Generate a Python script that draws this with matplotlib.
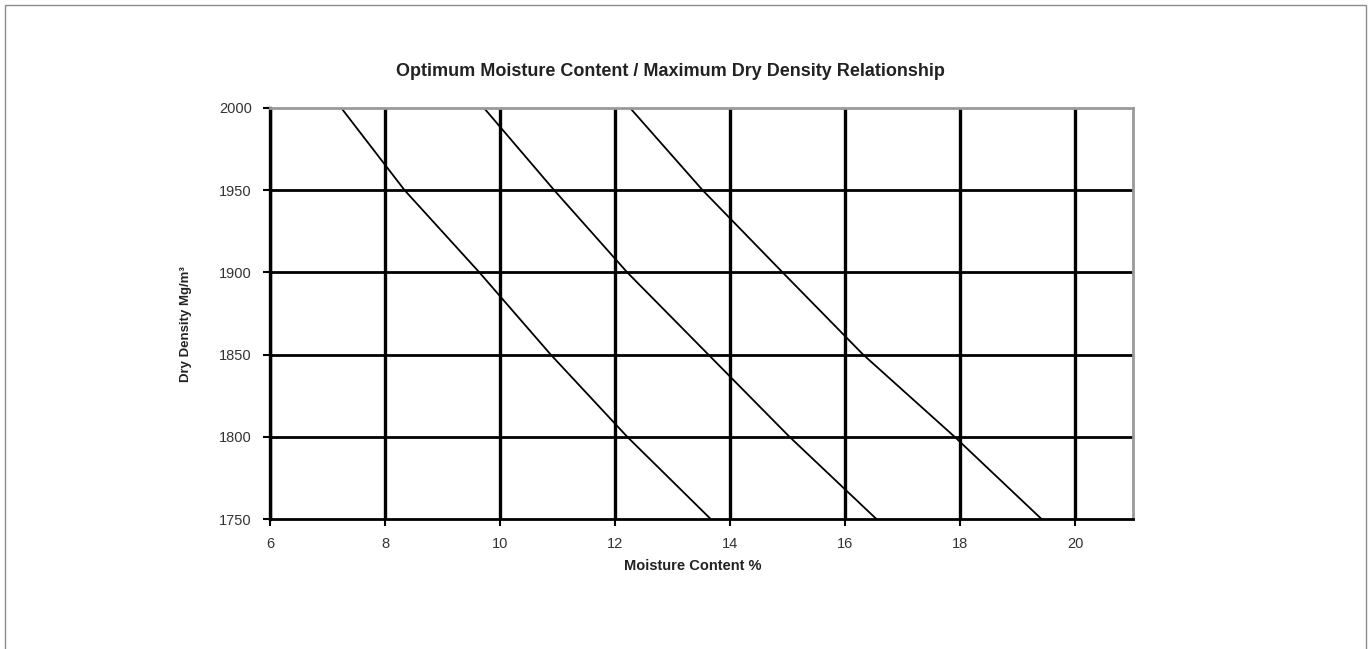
import matplotlib

matplotlib.use("Agg")
import matplotlib.pyplot as plt
from matplotlib.patches import Rectangle

plt.rcParams["font.family"] = ["Liberation Sans", "DejaVu Sans"]

# dry density levels (kg/m3) at which each curve was read
density = [2000, 1950, 1900, 1850, 1800, 1750]
# moisture content (%) of each curve at those densities
curve_a = [7.24, 8.34, 9.64, 10.88, 12.21, 13.66]
curve_b = [9.72, 10.94, 12.21, 13.62, 15.03, 16.54]
curve_c = [12.26, 13.52, 14.91, 16.31, 17.90, 19.41]

x_ticks = [6, 8, 10, 12, 14, 16, 18, 20]
y_ticks = [1750, 1800, 1850, 1900, 1950, 2000]

title = "Optimum Moisture Content / Maximum Dry Density Relationship"
x_label = "Moisture Content %"
y_label = "Dry Density Mg/m³"

fig = plt.figure(figsize=(13.71, 6.49), dpi=100)
fig.patches.append(Rectangle((0.004, -0.01), 0.992, 1.002, transform=fig.transFigure,
                             fill=False, edgecolor="0.55", lw=1.0))
ax = fig.add_axes([0.1969, 0.2003, 0.6295, 0.6333])

for xv in x_ticks:
    ax.axvline(xv, color="black", lw=2.4, zorder=1)
for yv in y_ticks[1:-1]:
    ax.axhline(yv, color="black", lw=2.0, zorder=1)

for curve in (curve_a, curve_b, curve_c):
    ax.plot(curve, density, color="black", lw=1.3, zorder=2)

ax.set_xlim(6, 21)
ax.set_ylim(1750, 2000)
ax.set_xticks(x_ticks)
ax.set_yticks(y_ticks)
ax.tick_params(axis="both", direction="out", length=5, width=1.5, labelsize=10.5,
               pad=8, labelcolor="#333333")

ax.spines["left"].set_linewidth(2.4)
ax.spines["bottom"].set_linewidth(2.0)
for side in ("top", "right"):
    ax.spines[side].set_color("0.6")
    ax.spines[side].set_linewidth(2.0)

fig.text(0.489, 0.89, title, ha="center", va="center", fontsize=13, fontweight="bold",
         color="#222222")
fig.text(0.505, 0.128, x_label, ha="center", va="center", fontsize=10.5, fontweight="bold",
         color="#222222")
fig.text(0.136, 0.50, y_label, ha="center", va="center", rotation=90, fontsize=9.5,
         fontweight="bold", color="#222222")

fig.savefig("out.png", dpi=100)
